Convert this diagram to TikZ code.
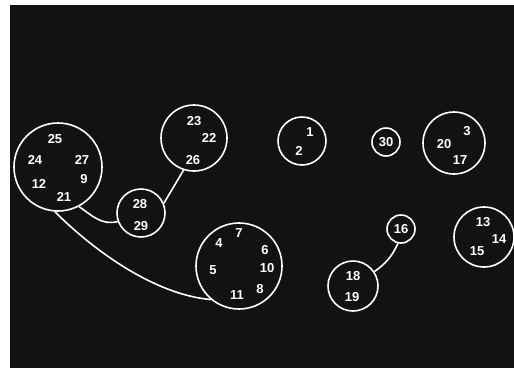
\documentclass[tikz,border=0pt]{standalone}
\usepackage{fontspec}
\setmainfont{Liberation Sans}

\begin{document}
\begin{tikzpicture}[x=1pt, y=-1pt, line width=1.6pt,
  ring/.style={circle, draw=white, inner sep=0pt},
  num/.style={text=white, inner sep=0pt, font=\fontsize{13}{13}\selectfont\bfseries}]
  \useasboundingbox (0,0) rectangle (514,370);
  \fill[black!93] (10,5) rectangle (514,368);
  % Clusters
  \node[ring, minimum size=88pt] (c25) at (58,167) {};
  \node[ring, minimum size=66pt] (c23) at (194,138) {};
  \node[ring, minimum size=48pt] (c28) at (141,213) {};
  \node[ring, minimum size=86pt] (c7) at (239,266) {};
  \node[ring, minimum size=48pt] (c1) at (302,141) {};
  \node[ring, minimum size=28pt, num] (c30) at (386,142) {30};
  \node[ring, minimum size=62pt] (c3) at (454,143) {};
  \node[ring, minimum size=28pt, num] (c16) at (401,229) {16};
  \node[ring, minimum size=50pt] (c18) at (353,286) {};
  \node[ring, minimum size=60pt] (c13) at (484,237) {};
  % Members
  \node[num] (n25) at (55,139) {25};
  \node[num] (n24) at (35,160) {24};
  \node[num] (n27) at (82,160) {27};
  \node[num] (n12) at (39,184) {12};
  \node[num] (n9)  at (84,179) {9};
  \node[num] (n21) at (64,197) {21};
  \node[num] (n23) at (194,121) {23};
  \node[num] (n22) at (209,138) {22};
  \node[num] (n26) at (193,160) {26};
  \node[num] (n28) at (140,204) {28};
  \node[num] (n29) at (141,226) {29};
  \node[num] (n7)  at (239,233) {7};
  \node[num] (n4)  at (219,243) {4};
  \node[num] (n6)  at (265,250) {6};
  \node[num] (n5)  at (213,270) {5};
  \node[num] (n10) at (267,268) {10};
  \node[num] (n8)  at (260,289) {8};
  \node[num] (n11) at (237,295) {11};
  \node[num] (n1)  at (310,132) {1};
  \node[num] (n2)  at (299,151) {2};
  \node[num] (n3)  at (467,131) {3};
  \node[num] (n20) at (444,144) {20};
  \node[num] (n17) at (460,160) {17};
  \node[num] (n18) at (353,276) {18};
  \node[num] (n19) at (352,297) {19};
  \node[num] (n13) at (483,222) {13};
  \node[num] (n14) at (499,239) {14};
  \node[num] (n15) at (477,251) {15};
  % Links
  \draw[white] (c25.-62) to[out=-35, in=195] (c28.200);
  \draw[white] (c25.-94) to[out=-45, in=175, looseness=0.8] (c7.230);
  \draw[white] (c23.-108) -- (c28.23);
  \draw[white] (c16.-102) to[out=-115, in=35] (c18.34);
\end{tikzpicture}
\end{document}
